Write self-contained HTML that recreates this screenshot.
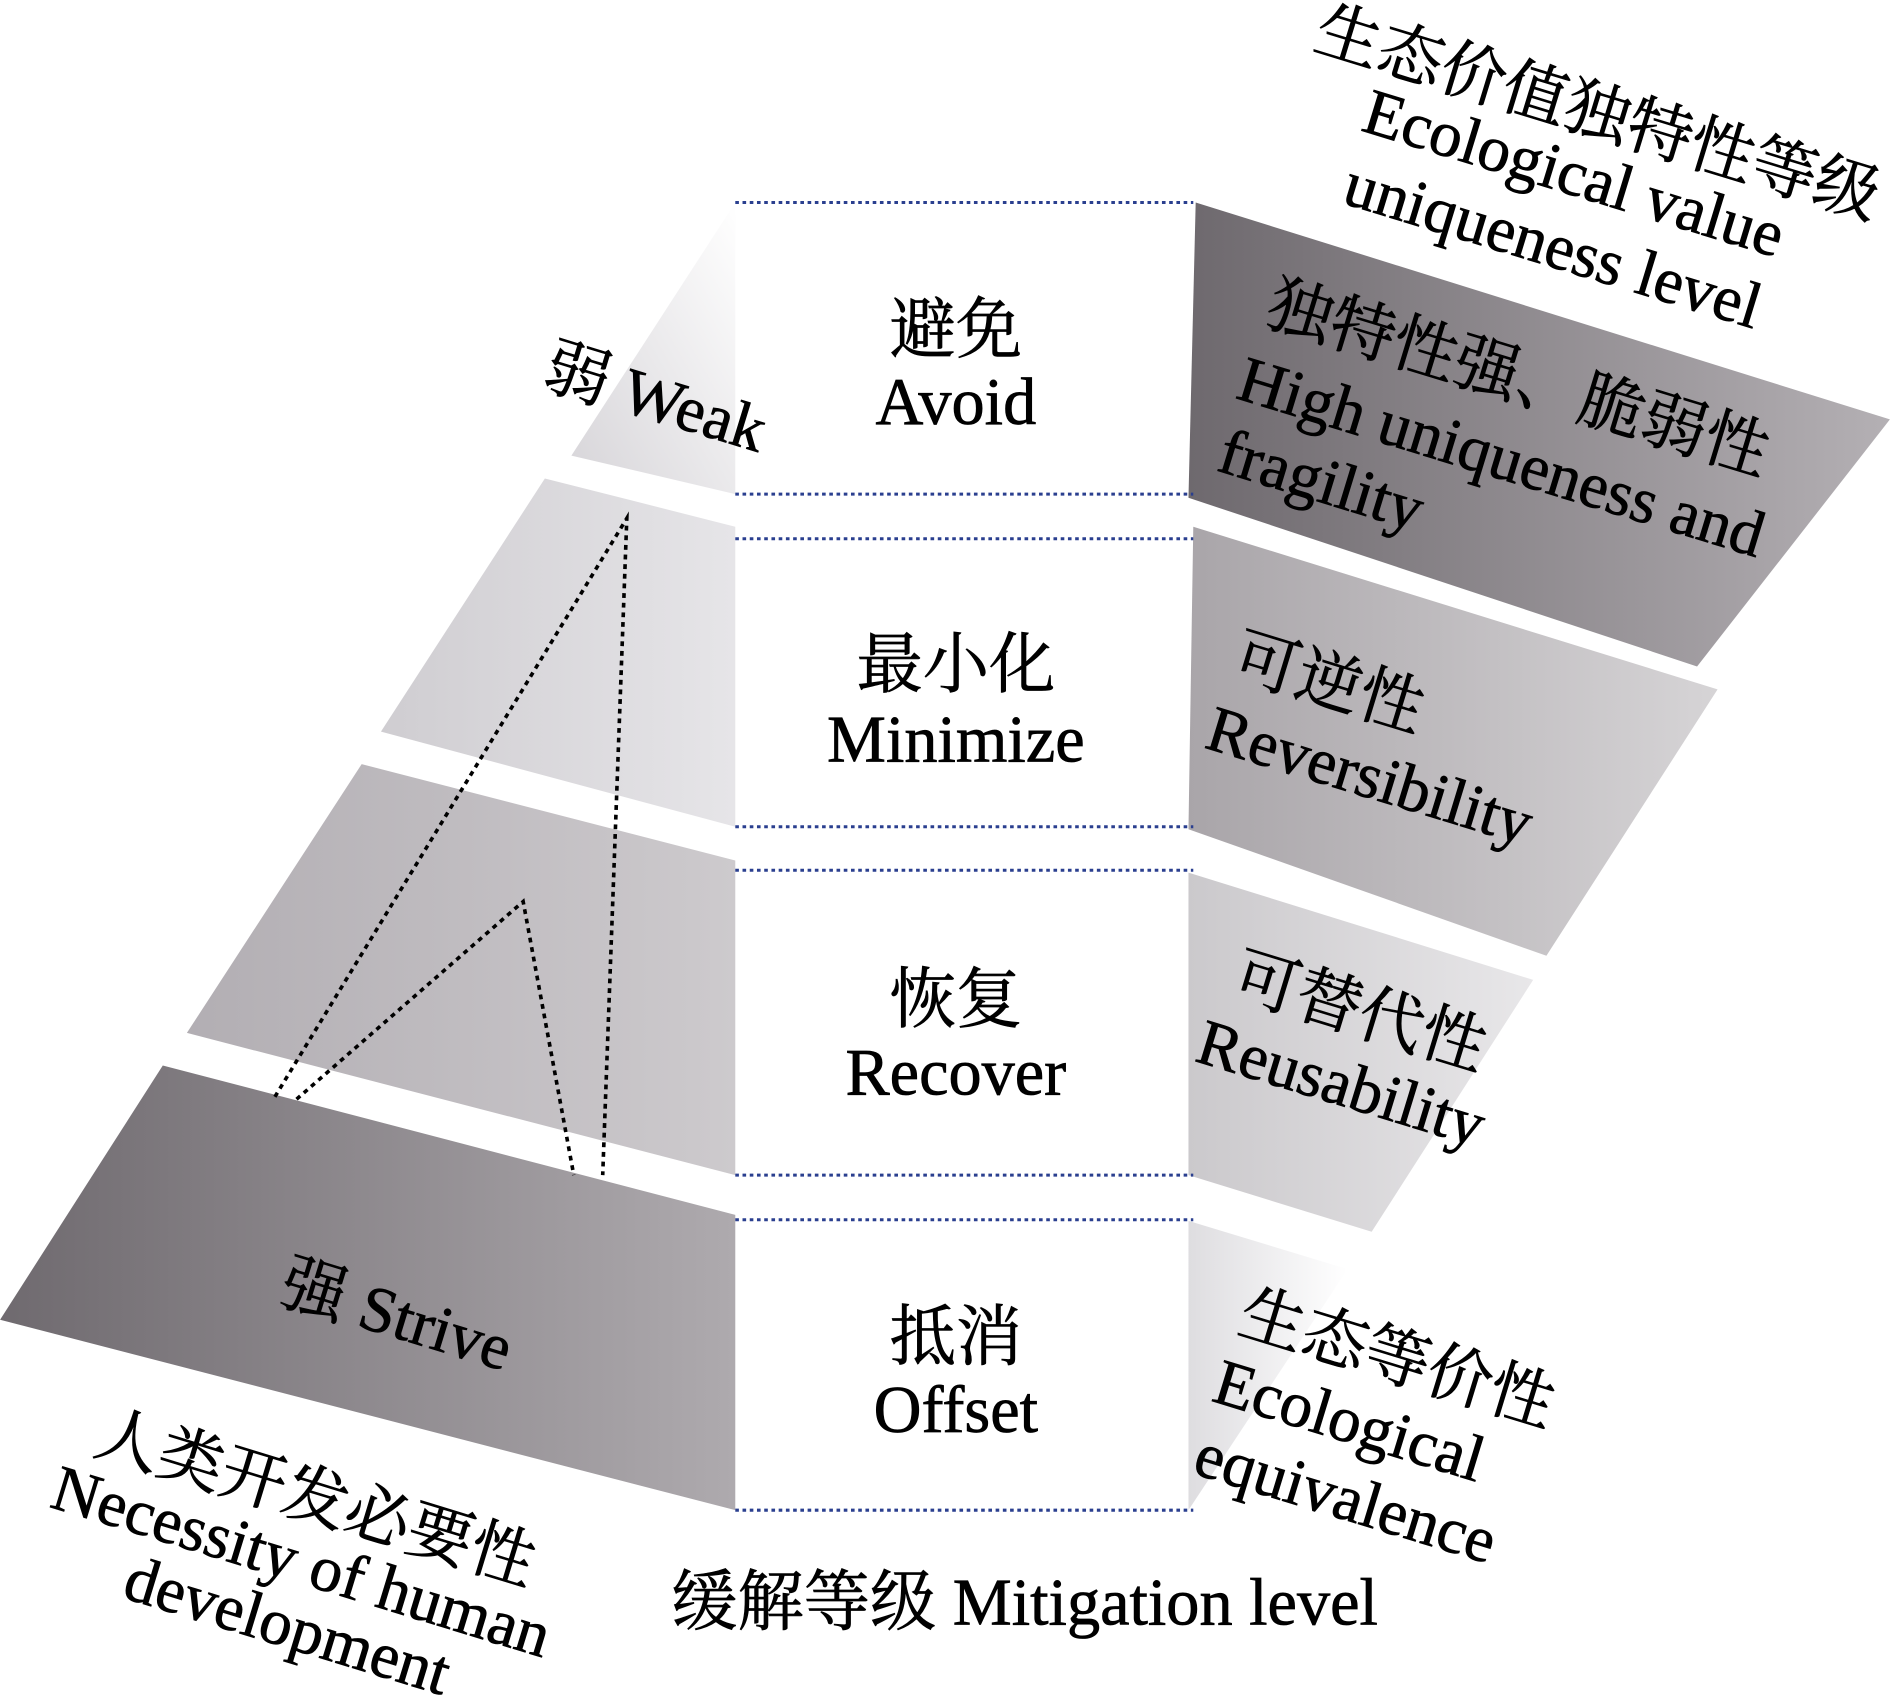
<!DOCTYPE html>
<html><head><meta charset="utf-8"><style>
html,body{margin:0;padding:0;background:#fff;}
svg{display:block;}
text{font-family:"Liberation Serif","Noto Serif CJK SC","Noto Sans CJK SC",serif;fill:#000;stroke:#000;stroke-width:0.6;}
</style></head><body>
<svg width="1890" height="1697" viewBox="0 0 1568 1408" xmlns="http://www.w3.org/2000/svg">
<defs>
<linearGradient id="l1" x1="0" y1="1" x2="1" y2="0"><stop offset="0" stop-color="#d6d4d8"/><stop offset="1" stop-color="#ffffff"/></linearGradient>
<linearGradient id="l2" x1="0" y1="0" x2="1" y2="0"><stop offset="0" stop-color="#cfcdd1"/><stop offset="1" stop-color="#e6e5e8"/></linearGradient>
<linearGradient id="l3" x1="0" y1="0" x2="1" y2="0"><stop offset="0" stop-color="#b2aeb3"/><stop offset="1" stop-color="#cdcacd"/></linearGradient>
<linearGradient id="l4" x1="0" y1="0" x2="1" y2="0"><stop offset="0" stop-color="#6f6a6f"/><stop offset="1" stop-color="#aeaaae"/></linearGradient>
<linearGradient id="r1" x1="0" y1="0" x2="1" y2="0"><stop offset="0" stop-color="#6e696e"/><stop offset="1" stop-color="#b4b0b4"/></linearGradient>
<linearGradient id="r2" x1="0" y1="0" x2="1" y2="0"><stop offset="0" stop-color="#a9a5a9"/><stop offset="1" stop-color="#d6d4d6"/></linearGradient>
<linearGradient id="r3" x1="0" y1="0" x2="1" y2="0"><stop offset="0" stop-color="#cbc9cc"/><stop offset="1" stop-color="#e8e7e9"/></linearGradient>
<linearGradient id="r4" x1="0" y1="0" x2="1" y2="0"><stop offset="0" stop-color="#dedde0"/><stop offset="1" stop-color="#ffffff"/></linearGradient>
</defs>
<polygon points="474,378 610,168 610,410" fill="url(#l1)"/>
<polygon points="452,397 610,437 610,686 316,607" fill="url(#l2)"/>
<polygon points="300,634 610,714 610,975 155,857" fill="url(#l3)"/>
<polygon points="135,884 610,1008 610,1253 0,1095" fill="url(#l4)"/>
<polygon points="992,168 1568,348 1408,553 986,413" fill="url(#r1)"/>
<polygon points="990,437 1425,572 1283,793 986,688" fill="url(#r2)"/>
<polygon points="986,724 1272,813 1138,1022 986,975" fill="url(#r3)"/>
<polygon points="986,1013 1118,1053 986,1253" fill="url(#r4)"/>
<g stroke="#2a3f8f" stroke-width="2.5" stroke-dasharray="3,3">
<line x1="610" y1="168" x2="990" y2="168"/><line x1="610" y1="410" x2="990" y2="410"/>
<line x1="610" y1="447" x2="990" y2="447"/><line x1="610" y1="686" x2="990" y2="686"/>
<line x1="610" y1="722" x2="990" y2="722"/><line x1="610" y1="975" x2="990" y2="975"/>
<line x1="610" y1="1012" x2="990" y2="1012"/><line x1="610" y1="1253" x2="990" y2="1253"/>
</g>
<g stroke="#000" stroke-width="3" stroke-dasharray="4,4" fill="none">
<polyline points="228,910 520,430 500,975"/>
<polyline points="246,912 434,748 476,975"/>
</g>
<g font-size="55" text-anchor="middle">
<text x="793" y="292">避免</text><text x="793" y="352">Avoid</text>
<text x="793" y="570">最小化</text><text x="793" y="632">Minimize</text>
<text x="793" y="848">恢复</text><text x="793" y="908">Recover</text>
<text x="793" y="1128">抵消</text><text x="793" y="1188">Offset</text>
</g>
<text x="850" y="1348" font-size="55" text-anchor="middle">缓解等级 Mitigation level</text>
<g font-size="54">
<text transform="translate(448,320) rotate(17)">弱 Weak</text>
<text transform="translate(230,1080) rotate(17)">强 Strive</text>
<text transform="translate(76,1205) rotate(17)">人类开发必要性</text>
<text transform="translate(40,1250) rotate(17)">Necessity of human</text>
<text transform="translate(100,1325) rotate(17)">development</text>
<text transform="translate(1088,40) rotate(17)">生态价值独特性等级</text>
<text transform="translate(1128,108) rotate(17)">Ecological value</text>
<text transform="translate(1112,168) rotate(17)">uniqueness level</text>
<text transform="translate(1048,268) rotate(17)">独特性强、脆弱性</text>
<text transform="translate(1024,330) rotate(17)">High uniqueness and</text>
<text transform="translate(1008,390) rotate(17)">fragility</text>
<text transform="translate(1020,560) rotate(17)">可逆性</text>
<text transform="translate(998,620) rotate(17)">Reversibility</text>
<text transform="translate(1020,825) rotate(17)">可替代性</text>
<text transform="translate(990,880) rotate(17)">Reusability</text>
<text transform="translate(1025,1105) rotate(17)">生态等价性</text>
<text transform="translate(1004,1162) rotate(17)">Ecological</text>
<text transform="translate(988,1222) rotate(17)">equivalence</text>
</g>
</svg>
</body></html>
